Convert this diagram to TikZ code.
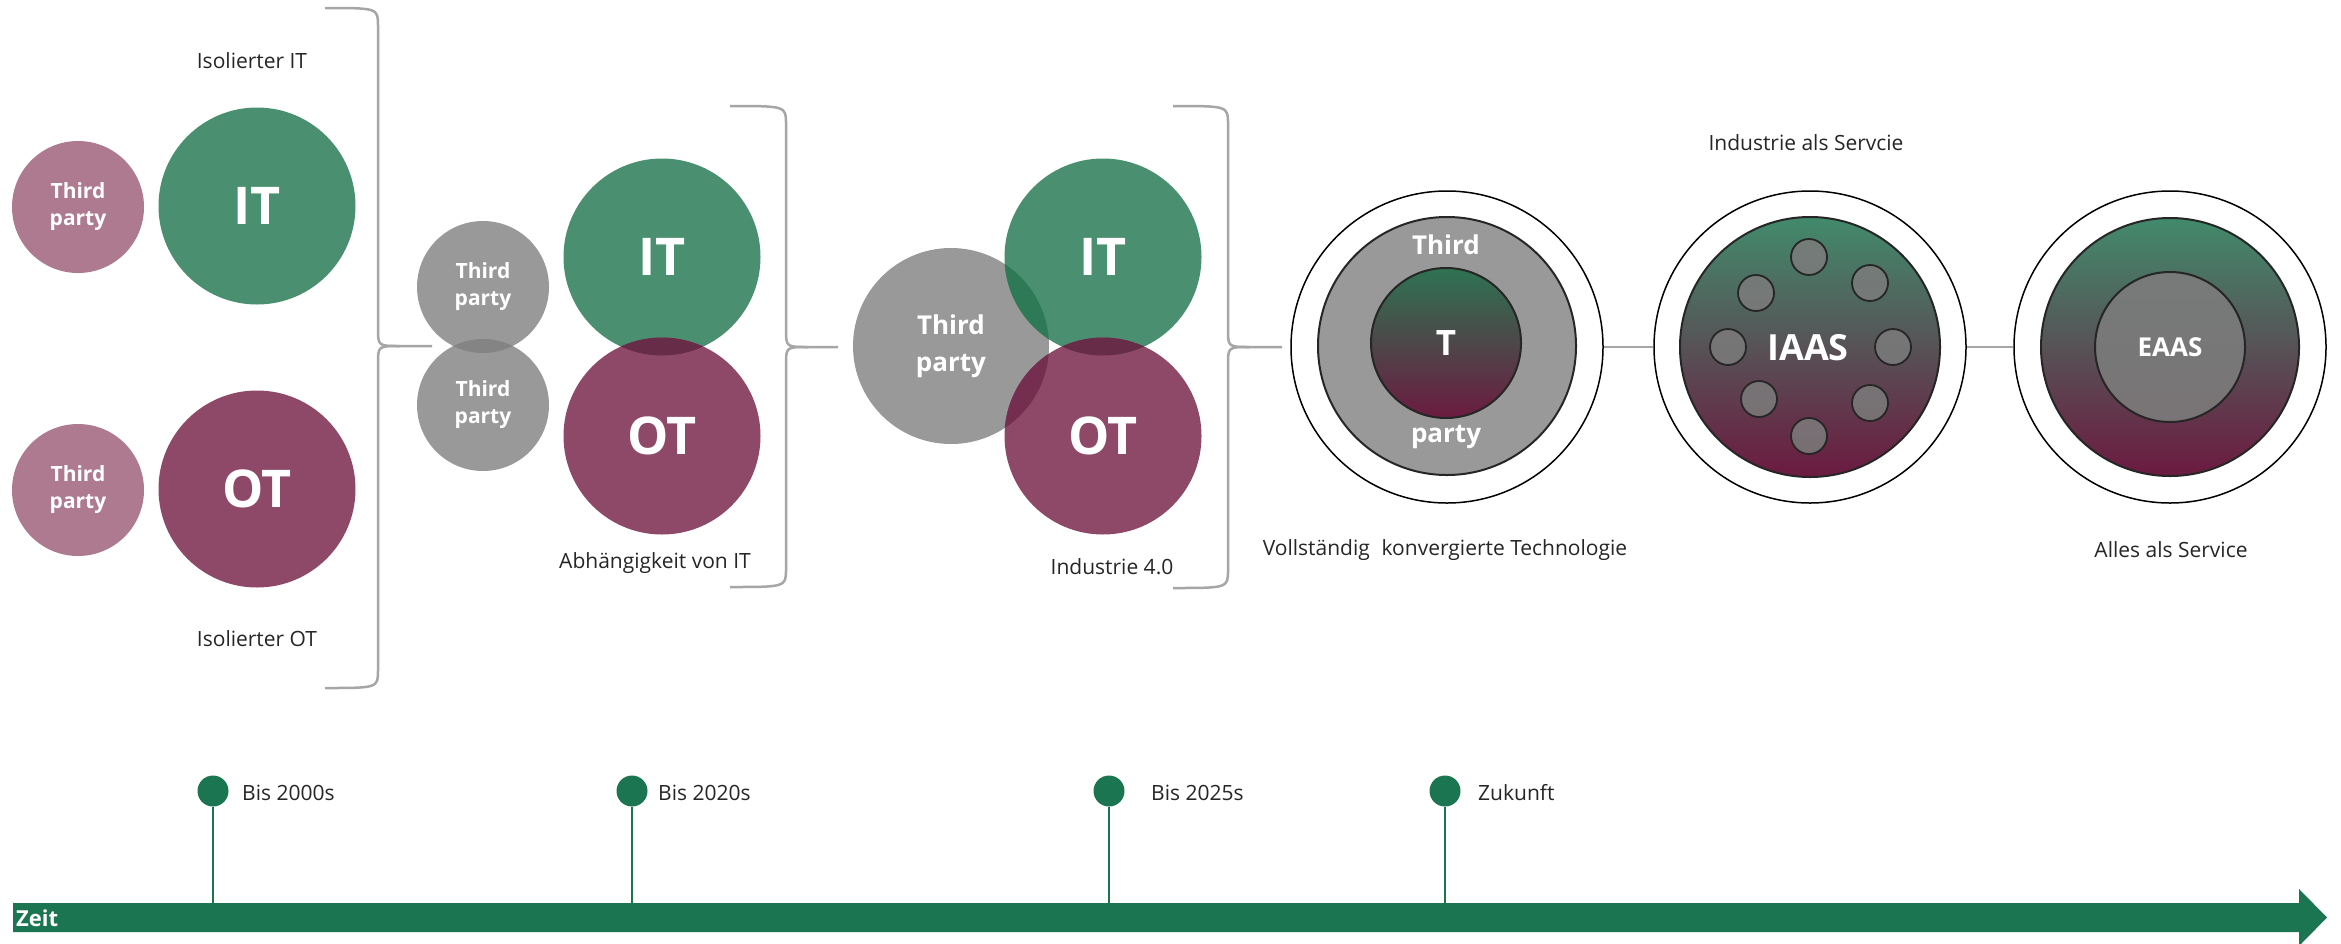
\documentclass[tikz,border=0pt]{standalone}
\usepackage{fontspec}
\setmainfont{Open Sans}
\usetikzlibrary{calc}
\definecolor{itgreen}{HTML}{4A9070}
\definecolor{otpurple}{HTML}{8E4868}
\definecolor{tppink}{HTML}{AE7A90}
\definecolor{tpgray}{HTML}{999999}
\definecolor{ovIO}{HTML}{662C48}
\definecolor{ovGG}{HTML}{848484}
\definecolor{ovTI}{HTML}{2F7A56}
\definecolor{ovTO}{HTML}{752E50}
\definecolor{timegreen}{HTML}{1B7550}
\definecolor{bracegray}{HTML}{A6A6A6}
\definecolor{txt}{HTML}{262626}
\definecolor{gtop}{HTML}{428A6C}
\definecolor{gmid}{HTML}{505050}
\definecolor{gbot}{HTML}{6C1A40}
\definecolor{ttop}{HTML}{2E7352}
\definecolor{tmid}{HTML}{454545}
\definecolor{tbot}{HTML}{6C1B40}
\definecolor{dotgray}{HTML}{7C7C7C}
\tikzset{
  blob/.style={circle, inner sep=0pt, text=white, align=center},
  tpsmall/.style={blob, minimum size=132pt, font=\bfseries\fontsize{21}{27}\selectfont},
  tpbig/.style={blob, minimum size=196pt, font=\bfseries\fontsize{26}{37}\selectfont},
  bigc/.style={blob, minimum size=197pt, font=\bfseries\fontsize{52}{60}\selectfont},
  lbl/.style={font=\fontsize{21}{26}\selectfont, text=txt, inner sep=0pt},
  bracestyle/.style={draw=bracegray, line width=2.5pt},
  conn/.style={draw=bracegray, line width=2.5pt},
  ring/.style={circle, draw=black, line width=1.5pt, fill=white, inner sep=0pt, minimum size=312pt},
  gdisk/.style={circle, draw=black!85, line width=2pt, inner sep=0pt, top color=gtop, middle color=gmid, bottom color=gbot},
  dotc/.style={circle, draw=black!85, line width=1.8pt, fill=dotgray, fill opacity=0.85, minimum size=36pt, inner sep=0pt},
  pin/.style={circle, fill=timegreen, minimum size=31pt, inner sep=0pt},
  stem/.style={draw=timegreen, line width=2.5pt},
  intext/.style={text=white, inner sep=0pt},
}
\begin{document}
\begin{tikzpicture}[x=1pt,y=-1pt]
\path[use as bounding box, fill=white] (0,0) rectangle (2341,943);

% ---------- Stage 1 ----------
\node[tpsmall, fill=tppink] (tp1a) at (78,207) {Third\\party};
\node[bigc, fill=itgreen] (it1) at (257,206) {IT};
\node[tpsmall, fill=tppink] (tp1b) at (78,490) {Third\\party};
\node[bigc, fill=otpurple] (ot1) at (257,489) {OT};
\node[lbl] (l1a) at (252,61) {Isolierter IT};
\node[lbl] (l1b) at (257,639) {Isolierter OT};
\draw[bracestyle] (325,8) .. controls (378,8) and (378,8) .. (378,26) -- (378,328) .. controls (378,346) and (378,346) .. (400,346) -- (432,346);
\draw[bracestyle] (325,688) .. controls (378,688) and (378,688) .. (378,670) -- (378,364) .. controls (378,346) and (378,346) .. (400,346);

% ---------- Stage 2 ----------
\node[tpsmall, fill=tpgray] (tp2a) at (483,287) {Third\\party};
\node[tpsmall, fill=tpgray] (tp2b) at (483,405) {Third\\party};
\begin{scope}
  \clip (tp2a.center) circle (66pt);
  \fill[ovGG] (tp2b.center) circle (66pt);
\end{scope}
\node[bigc, fill=itgreen] (it2) at (662,257) {IT};
\node[bigc, fill=otpurple] (ot2) at (662,436) {OT};
\begin{scope}
  \clip (it2.center) circle (98.5pt);
  \fill[ovIO] (ot2.center) circle (98.5pt);
\end{scope}
\node[lbl] (l2) at (655,563) {Abhängigkeit von IT};
\draw[bracestyle] (730,106) .. controls (786,106) and (786,106) .. (786,124) -- (786,329) .. controls (786,347) and (786,347) .. (808,347) -- (838,347);
\draw[bracestyle] (730,587) .. controls (786,587) and (786,587) .. (786,569) -- (786,365) .. controls (786,347) and (786,347) .. (808,347);

% ---------- Stage 3 ----------
\node[tpbig, fill=tpgray] (tp3) at (951,346) {Third\\party};
\node[bigc, fill=itgreen] (it3) at (1103,257) {IT};
\node[bigc, fill=otpurple] (ot3) at (1103,436) {OT};
\begin{scope}
  \clip (tp3.center) circle (98pt);
  \fill[ovTI] (it3.center) circle (98.5pt);
  \fill[ovTO] (ot3.center) circle (98.5pt);
\end{scope}
\begin{scope}
  \clip (it3.center) circle (98.5pt);
  \fill[ovIO] (ot3.center) circle (98.5pt);
\end{scope}
\node[lbl] (l3) at (1112,567) {Industrie 4.0};
\draw[bracestyle] (1173,106) .. controls (1228,106) and (1228,106) .. (1228,124) -- (1228,329) .. controls (1228,347) and (1228,347) .. (1250,347) -- (1282,347);
\draw[bracestyle] (1173,588) .. controls (1228,588) and (1228,588) .. (1228,570) -- (1228,365) .. controls (1228,347) and (1228,347) .. (1250,347);

% ---------- Converged ----------
\node[ring] (c1) at (1447,347) {};
\node[circle, draw=black!85, line width=2pt, fill=tpgray, minimum size=258pt, inner sep=0pt] (c1g) at (1447,346) {};
\node[circle, draw=black!85, line width=2pt, inner sep=0pt, minimum size=150pt, top color=ttop, middle color=tmid, bottom color=tbot, text=white, font=\bfseries\fontsize{35}{40}\selectfont] (c1i) at (1446,343) {T};
\node[intext, font=\bfseries\fontsize{26}{30}\selectfont] (c1t) at (1446,245) {Third};
\node[intext, font=\bfseries\fontsize{26}{30}\selectfont] (c1p) at (1446,437) {party};
\node[lbl] (l4) at (1445,550) {Vollständig\hspace{0.3em} konvergierte Technologie};

% ---------- IAAS ----------
\node[ring] (c2) at (1810,347) {};
\node[gdisk, minimum size=260pt] (c2d) at (1810,347) {};
\node[dotc] (d1) at (1809,257) {};
\node[dotc] (d2) at (1870,283) {};
\node[dotc] (d3) at (1893,347) {};
\node[dotc] (d4) at (1870,403) {};
\node[dotc] (d5) at (1809,436) {};
\node[dotc] (d6) at (1759,399) {};
\node[dotc] (d7) at (1728,347) {};
\node[dotc] (d8) at (1756,293) {};
\node[intext, font=\bfseries\fontsize{36}{40}\selectfont] (iaas) at (1808,348) {IAAS};
\node[lbl] (l5) at (1806,143) {Industrie als Servcie};

% ---------- EAAS ----------
\node[ring] (c3) at (2170,347) {};
\node[gdisk, minimum size=258pt] (c3d) at (2170,347) {};
\node[circle, draw=black!85, line width=2pt, fill=dotgray, fill opacity=0.9, minimum size=150pt, inner sep=0pt] (c3i) at (2170,347) {};
\node[intext, font=\bfseries\fontsize{26}{30}\selectfont] (eaas) at (2170,347) {EAAS};
\node[lbl] (l6) at (2171,550) {Alles als Service};

\draw[conn] (c1) -- (c2);
\draw[conn] (c2) -- (c3);

% ---------- Timeline ----------
\fill[timegreen] (13,903) -- (2299,903) -- (2299,889) -- (2327,917.5) -- (2299,946) -- (2299,932) -- (13,932) -- cycle;
\node[anchor=west, text=white, font=\bfseries\fontsize{22}{26}\selectfont, inner sep=0pt] (zeit) at (16,918) {Zeit};

\coordinate (b1) at (213,903);
\coordinate (b2) at (632,903);
\coordinate (b3) at (1109,903);
\coordinate (b4) at (1445,903);
\node[pin] (p1) at (213,791) {};
\node[pin] (p2) at (632,791) {};
\node[pin] (p3) at (1109,791) {};
\node[pin] (p4) at (1445,791) {};
\draw[stem] (p1) -- (b1);
\draw[stem] (p2) -- (b2);
\draw[stem] (p3) -- (b3);
\draw[stem] (p4) -- (b4);
\node[lbl, anchor=west] (t1) at (242,793) {Bis 2000s};
\node[lbl, anchor=west] (t2) at (658,793) {Bis 2020s};
\node[lbl, anchor=west] (t3) at (1151,793) {Bis 2025s};
\node[lbl, anchor=west] (t4) at (1478,793) {Zukunft};
\end{tikzpicture}
\end{document}
